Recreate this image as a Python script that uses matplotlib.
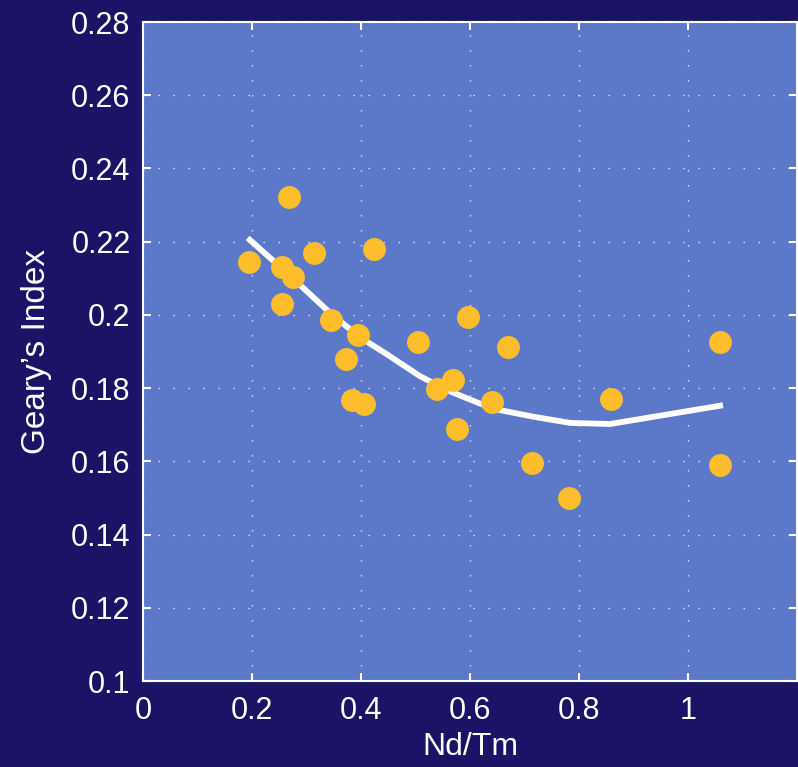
import matplotlib
import matplotlib.pyplot as plt

matplotlib.use("Agg")

plt.rcParams["font.family"] = ["Liberation Sans", "DejaVu Sans"]

# Observed points (Nd/Tm ratio vs Geary's index)
nd_tm = [0.195, 0.268, 0.255, 0.275, 0.255, 0.313, 0.424, 0.345, 0.395, 0.373,
         0.383, 0.405, 0.505, 0.596, 0.669, 0.568, 0.539, 0.640, 0.577, 0.714,
         0.781, 0.858, 1.059, 1.059]
geary = [0.2144, 0.2323, 0.2131, 0.2104, 0.2030, 0.2168, 0.2181, 0.1985, 0.1944, 0.1880,
         0.1768, 0.1756, 0.1926, 0.1993, 0.1912, 0.1822, 0.1798, 0.1762, 0.1688, 0.1596,
         0.1499, 0.1770, 0.1926, 0.1591]

# Smoothed trend line
fit_x = [0.196, 0.251, 0.288, 0.337, 0.374, 0.411, 0.450, 0.508, 0.557, 0.618,
         0.655, 0.716, 0.784, 0.857, 1.059]
fit_y = [0.2205, 0.2132, 0.2082, 0.2014, 0.1968, 0.1927, 0.1890, 0.1833, 0.1795, 0.1758,
         0.1740, 0.1722, 0.1705, 0.1702, 0.1752]

x_ticks = [0, 0.2, 0.4, 0.6, 0.8, 1.0]
x_labels = ["0", "0.2", "0.4", "0.6", "0.8", "1"]
y_ticks = [0.1, 0.12, 0.14, 0.16, 0.18, 0.2, 0.22, 0.24, 0.26, 0.28]
y_labels = ["0.1", "0.12", "0.14", "0.16", "0.18", "0.2", "0.22", "0.24", "0.26", "0.28"]

BG = "#1b1466"
FACE = "#5b78c9"
DOT = "#febd2a"

fig = plt.figure(figsize=(7.98, 7.67), dpi=100, facecolor=BG)
ax = fig.add_axes([0.1792, 0.1121, 0.8195, 0.8592], facecolor=FACE)

ax.plot(fit_x, fit_y, color="white", linewidth=4.2, zorder=2)
ax.plot(nd_tm, geary, "o", color=DOT, markersize=16.5, markeredgewidth=0, zorder=3)

ax.set_xlim(0, 1.2)
ax.set_ylim(0.1, 0.28)
ax.set_xticks(x_ticks)
ax.set_xticklabels(x_labels)
ax.set_yticks(y_ticks)
ax.set_yticklabels(y_labels)

ax.grid(True, color="white", linestyle=(0, (1, 9.8)), linewidth=1.0, alpha=0.85)
ax.set_axisbelow(True)

ax.tick_params(direction="in", length=6, width=1.5, colors="white", labelsize=22,
               top=True, right=True)
ax.tick_params(axis="x", pad=11)
ax.tick_params(axis="y", pad=9)
for spine in ax.spines.values():
    spine.set_color("white")
    spine.set_linewidth(1.5)

ax.set_xlabel("Nd/Tm", color="white", fontsize=23, labelpad=4)
ax.set_ylabel("Geary\u2019s Index", color="white", fontsize=24, labelpad=14)

fig.savefig("out.png", dpi=100, facecolor=BG)
